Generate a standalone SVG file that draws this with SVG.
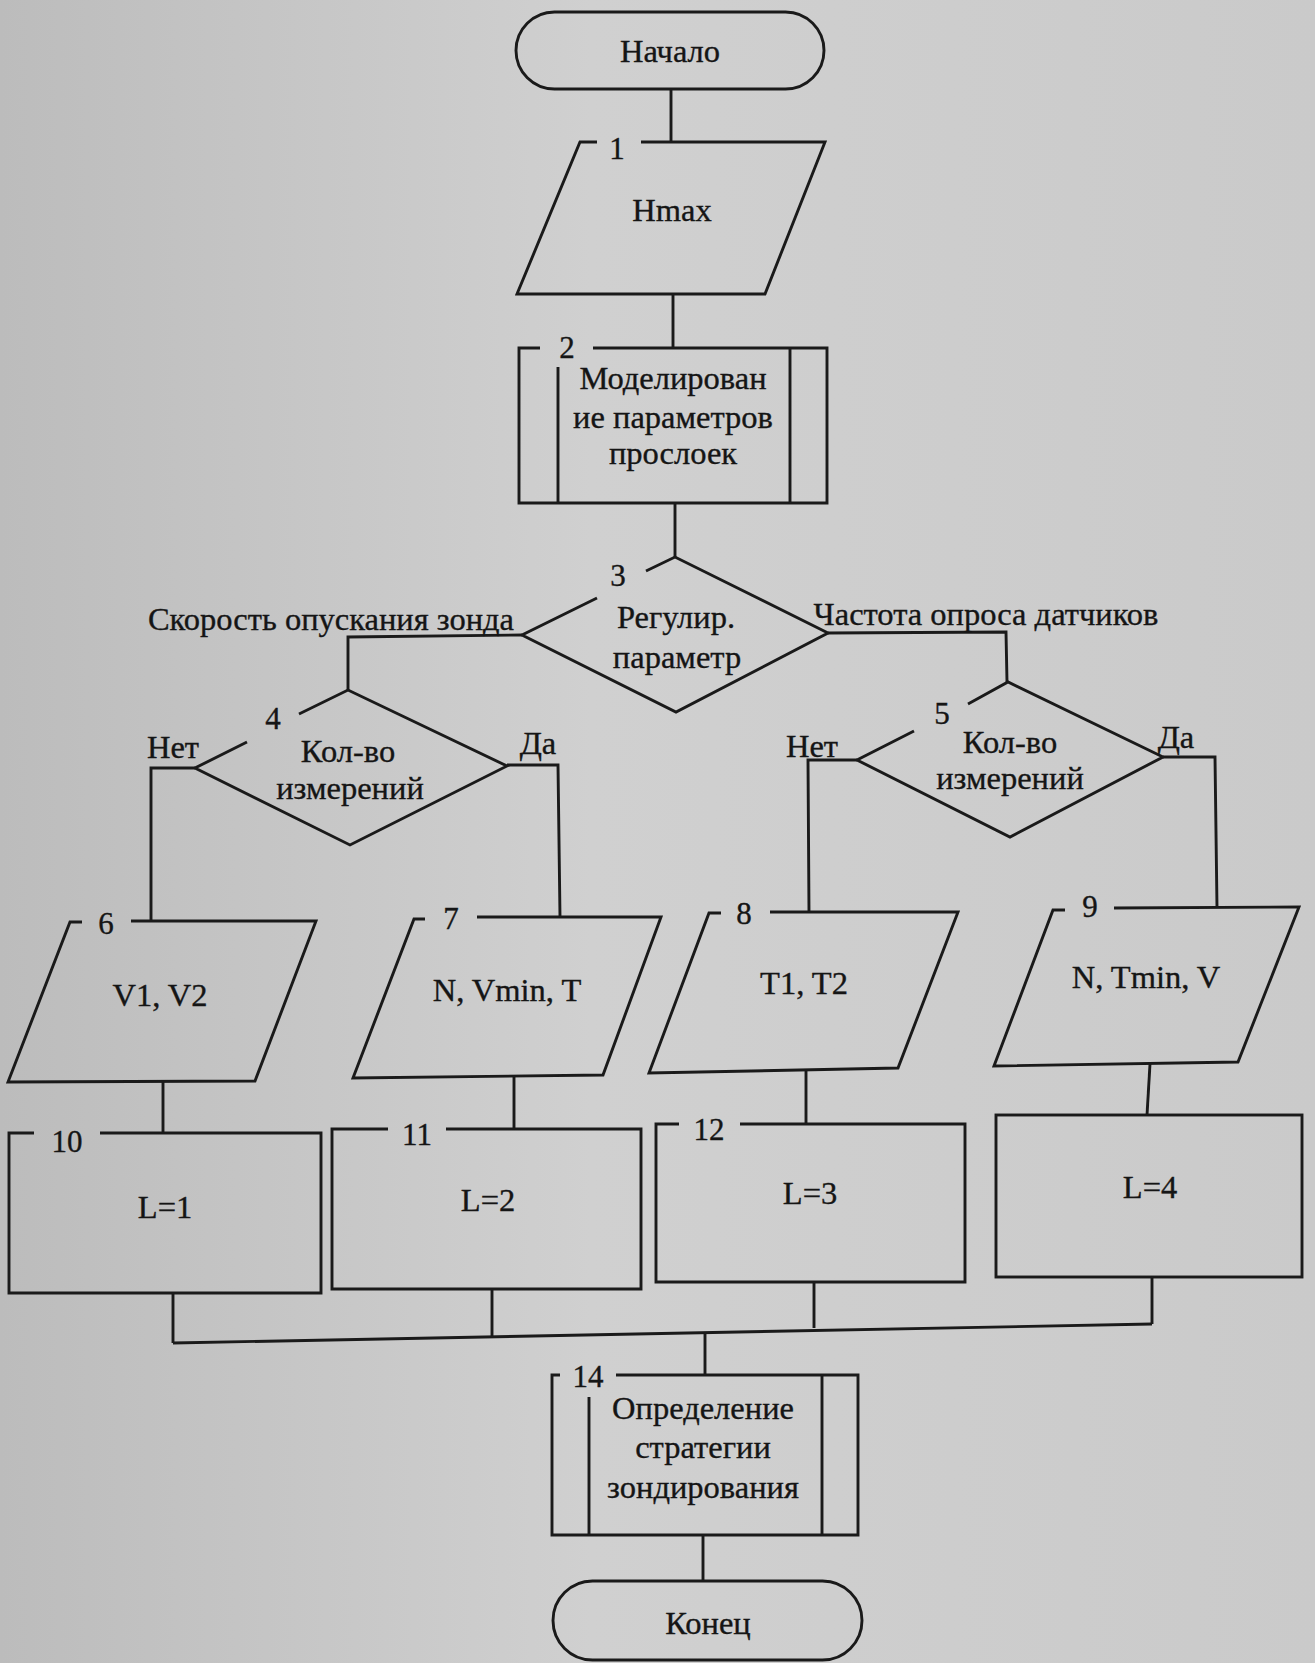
<svg xmlns="http://www.w3.org/2000/svg" width="1315" height="1663" viewBox="0 0 1315 1663">
<style>
.s{fill:none;stroke:#1a1a1a;stroke-width:2.9;stroke-linejoin:miter}
.t{font-family:"Liberation Serif","Times New Roman",serif;font-size:32.5px;fill:#151515;stroke:#151515;stroke-width:0.35;text-anchor:middle}
.n{font-family:"Liberation Serif","Times New Roman",serif;font-size:31px;fill:#151515;stroke:#151515;stroke-width:0.35;text-anchor:middle}
</style>
<defs>
<linearGradient id="bg" x1="0" y1="0" x2="1" y2="0">
<stop offset="0" stop-color="#bcbcbc"/>
<stop offset="0.45" stop-color="#d0d0d0"/>
<stop offset="1" stop-color="#cacaca"/>
</linearGradient>
</defs>
<rect x="0" y="0" width="1315" height="1663" fill="url(#bg)"/>

<g id="connectors" class="s">
<path d="M671,89 L671,142"/>
<path d="M673,294 L673,348"/>
<path d="M675,503 L675,557"/>
<path d="M522,635 L348,637 L348,690"/>
<path d="M828,633 L1006,632 L1007,682"/>
<path d="M195,768 L151,768 L151,922"/>
<path d="M507,765 L558,765 L560,917"/>
<path d="M857,760 L808,760 L809,913"/>
<path d="M1163,757 L1215,757 L1217,907"/>
<path d="M163,1082 L163,1133"/>
<path d="M514,1077 L514,1129"/>
<path d="M806,1071 L806,1124"/>
<path d="M1150,1064 L1147,1115"/>
<path d="M173,1293 L173,1343"/>
<path d="M492,1289 L492,1337"/>
<path d="M814,1282 L814,1328"/>
<path d="M1152,1277 L1152,1324"/>
<path d="M173,1343 L1152,1324"/>
<path d="M705,1333 L705,1375"/>
<path d="M703,1535 L703,1581"/>
</g>

<g id="start">
<rect class="s" x="516" y="12" width="308" height="77" rx="38.5"/>
<text class="t" x="670" y="62">Начало</text>
</g>

<g id="block1">
<path class="s" d="M597,142 L580,142 L517,294 L765,294 L825,142 L641,142"/>
<text class="n" x="617" y="159">1</text>
<text class="t" x="672" y="221">Hmax</text>
</g>

<g id="block2">
<path class="s" d="M540,348 L519,348 L519,503 L827,503 L827,348 L593,348"/>
<path class="s" d="M558,367 L558,503 M790,348 L790,503"/>
<text class="n" x="567" y="358">2</text>
<text class="t" x="673" y="389">Моделирован</text>
<text class="t" x="673" y="428">ие параметров</text>
<text class="t" x="673" y="464">прослоек</text>
</g>

<g id="block3">
<path class="s" d="M646,571 L675,557 L828,633 L676,712 L522,635 L597,598"/>
<text class="n" x="618" y="586">3</text>
<text class="t" x="676" y="628">Регулир.</text>
<text class="t" x="677" y="668">параметр</text>
<text class="t" x="331" y="630">Скорость опускания зонда</text>
<text class="t" x="986" y="625">Частота опроса датчиков</text>
</g>

<g id="block4">
<path class="s" d="M299,714 L348,690 L507,766 L350,845 L195,768 L247,742"/>
<text class="n" x="273" y="729">4</text>
<text class="t" x="348" y="762">Кол-во</text>
<text class="t" x="350" y="799">измерений</text>
<text class="t" x="173" y="758">Нет</text>
<text class="t" x="538" y="754">Да</text>
</g>

<g id="block5">
<path class="s" d="M968,704 L1008,682 L1163,757 L1010,837 L857,760 L914,731"/>
<text class="n" x="942" y="724">5</text>
<text class="t" x="1010" y="753">Кол-во</text>
<text class="t" x="1010" y="789">измерений</text>
<text class="t" x="812" y="757">Нет</text>
<text class="t" x="1176" y="748">Да</text>
</g>

<g id="block6">
<path class="s" d="M82,922 L70,922 L8,1082 L255,1081 L316,921 L131,921"/>
<text class="n" x="106" y="934">6</text>
<text class="t" x="160" y="1006">V1, V2</text>
</g>

<g id="block7">
<path class="s" d="M425,919 L414,919 L353,1078 L603,1075 L661,917 L477,917"/>
<text class="n" x="451" y="929">7</text>
<text class="t" x="507" y="1001">N, Vmin, T</text>
</g>

<g id="block8">
<path class="s" d="M721,913 L709,913 L649,1073 L898,1068 L958,912 L770,912"/>
<text class="n" x="744" y="924">8</text>
<text class="t" x="804" y="994">T1, T2</text>
</g>

<g id="block9">
<path class="s" d="M1065,910 L1053,910 L994,1066 L1238,1062 L1299,907 L1114,908"/>
<text class="n" x="1090" y="917">9</text>
<text class="t" x="1146" y="988">N, Tmin, V</text>
</g>

<g id="block10">
<path class="s" d="M34,1133 L9,1133 L9,1293 L321,1293 L321,1133 L100,1133"/>
<text class="n" x="67" y="1152">10</text>
<text class="t" x="165" y="1218">L=1</text>
</g>

<g id="block11">
<path class="s" d="M388,1129 L332,1129 L332,1289 L641,1289 L641,1129 L446,1129"/>
<text class="n" x="417" y="1145">11</text>
<text class="t" x="488" y="1211">L=2</text>
</g>

<g id="block12">
<path class="s" d="M679,1124 L656,1124 L656,1282 L965,1282 L965,1124 L740,1124"/>
<text class="n" x="709" y="1140">12</text>
<text class="t" x="810" y="1204">L=3</text>
</g>

<g id="block13">
<rect class="s" x="996" y="1115" width="306" height="162"/>
<text class="t" x="1150" y="1198">L=4</text>
</g>

<g id="block14">
<path class="s" d="M560,1375 L552,1375 L552,1535 L858,1535 L858,1375 L616,1375"/>
<path class="s" d="M589,1397 L589,1535 M822,1375 L822,1535"/>
<text class="n" x="588" y="1387">14</text>
<text class="t" x="703" y="1419">Определение</text>
<text class="t" x="703" y="1458">стратегии</text>
<text class="t" x="703" y="1498">зондирования</text>
</g>

<g id="end">
<rect class="s" x="553" y="1581" width="309" height="79" rx="39.5"/>
<text class="t" x="708" y="1634">Конец</text>
</g>
</svg>
